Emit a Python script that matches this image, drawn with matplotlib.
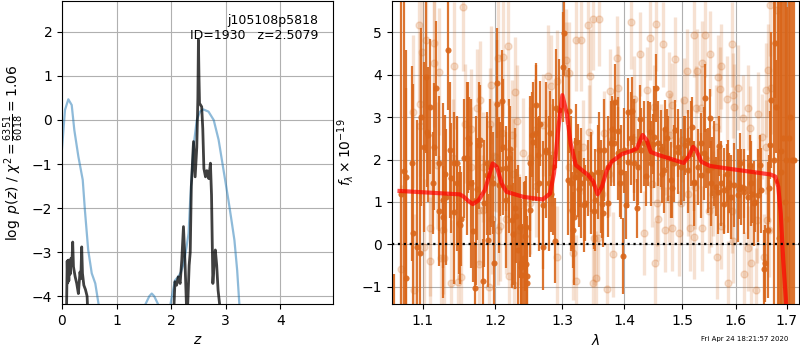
import numpy as np
import matplotlib
matplotlib.use("Agg")
import matplotlib.pyplot as plt
from matplotlib.ticker import NullLocator

# left panel: chi2-like curve (blue) and log p(z) (dark)
chi_z = [0.0, 0.055, 0.116, 0.178, 0.226, 0.30, 0.38, 0.42, 0.48, 0.545, 0.61, 0.67, 0.72,
         1.45, 1.53, 1.60, 1.645, 1.69, 1.76, 1.83,
         1.93, 2.0, 2.07, 2.13, 2.18, 2.23, 2.28, 2.32, 2.35, 2.38, 2.41, 2.44, 2.47,
         2.53, 2.59, 2.685, 2.78, 2.87, 2.95, 3.05, 3.11, 3.16, 3.21, 3.25, 3.3]
chi_y = [-0.65, 0.23, 0.47, 0.34, -0.23, -0.83, -1.36, -2.05, -2.95, -3.48, -3.71, -4.18, -4.6,
         -4.6, -4.18, -4.0, -3.94, -4.0, -4.18, -4.6,
         -4.6, -4.1, -3.64, -3.56, -3.45, -3.26, -2.9, -2.57, -1.8, -1.21, -0.6, -0.3, 0.0,
         0.19, 0.24, 0.19, 0.0, -0.45, -1.06, -1.82, -2.31, -2.73, -3.41, -4.18, -4.6]

pz_z = [0.08, 0.095, 0.105, 0.115, 0.125, 0.135, 0.15, 0.165, 0.18, 0.196, 0.21, 0.24,
        0.27, 0.30, 0.33, 0.345, 0.361, 0.375, 0.40, 0.43, 0.46, 0.48,
        2.04, 2.07, 2.10, 2.13, 2.165, 2.195, 2.226, 2.257, 2.275, 2.29, 2.31, 2.33,
        2.35, 2.37, 2.41, 2.44, 2.47, 2.49, 2.50, 2.51, 2.52, 2.56, 2.58, 2.60, 2.63,
        2.655, 2.69, 2.72, 2.74, 2.765, 2.79, 2.81, 2.835, 2.86, 2.89, 2.91]
pz_y = [-4.6, -3.2, -3.7, -3.18, -3.65, -3.2, -3.5, -3.14, -3.3, -2.77, -3.33, -3.55,
        -3.71, -3.94, -3.45, -3.6, -2.88, -3.48, -3.75, -3.85, -4.0, -4.6,
        -4.6, -3.67, -3.75, -3.56, -3.71, -3.18, -2.42, -3.33, -4.0, -4.6, -4.0, -3.3,
        -3.0, -1.5, -0.49, -1.29, -0.62, 0.5, 1.82, 1.0, 0.38, 0.3, -0.2, -1.1, -1.29,
        -1.15, -1.33, -0.98, -1.7, -3.71, -3.2, -2.95, -3.3, -3.86, -4.2, -4.6]

# right panel: spectrum (wave [um], flux, err)
dark_points = [
    (1.0633, -1.6, 0.9), (1.0718, 1.2, 5.0), (1.076, 1.73, 4.5), (1.078, -0.80, 4.5),
    (1.0782, 1.59, 3.0), (1.0856, 1.91, 2.3), (1.087, 0.28, 3.5), (1.0925, -0.06, 3.0),
    (1.0965, -0.21, 3.2), (1.0978, 3.01, 2.1), (1.1022, 2.30, 2.0), (1.1043, 3.95, 1.8),
    (1.1057, 2.66, 1.3), (1.1074, 2.59, 1.6), (1.1101, 3.25, 1.6), (1.1132, 1.44, 1.2),
    (1.1154, 2.30, 1.5), (1.1176, 3.68, 1.6), (1.122, 0.79, 1.3), (1.1221, 1.91, 1.6),
    (1.1266, 0.64, 1.2), (1.1266, 1.04, 2.3), (1.130, 1.66, 1.4), (1.1311, 1.12, 1.6),
    (1.1334, 4.58, 1.4), (1.1370, 2.22, 1.6), (1.1379, 1.56, 1.3), (1.1415, 0.77, 1.7),
    (1.1424, 1.93, 1.2), (1.1457, 1.91, 1.1), (1.1461, 1.44, 1.6), (1.1484, 0.51, 1.2),
    (1.1507, 0.46, 1.4), (1.1516, 0.60, 1.1), (1.1553, 2.03, 1.4), (1.1599, 2.03, 1.8),
    (1.1609, 2.52, 1.3), (1.1631, 2.38, 1.1), (1.1654, 1.44, 2.0), (1.1678, 0.31, 1.2),
    (1.1714, -1.04, 1.1), (1.1724, 1.04, 2.0), (1.1738, 1.30, 1.2), (1.1771, 2.34, 1.5),
    (1.1784, 2.46, 1.3), (1.1818, -0.87, 1.0), (1.1832, 0.97, 1.5), (1.1876, 1.93, 1.2),
    (1.1880, 1.63, 1.4), (1.1898, 0.10, 1.1), (1.1927, 1.83, 1.6), (1.1937, 1.60, 1.2),
    (1.1961, 1.44, 1.2), (1.1975, -0.45, 1.0), (1.2023, 3.32, 1.5), (1.2026, 3.80, 1.3),
    (1.2056, 1.40, 1.6), (1.2062, 1.78, 1.1), (1.2099, 3.38, 1.2), (1.2104, 2.30, 1.6),
    (1.2153, 1.04, 1.6), (1.2157, 1.79, 1.0), (1.2197, 1.36, 1.1), (1.2201, 2.03, 1.4),
    (1.2207, 2.26, 1.0), (1.2235, 0.57, 1.6), (1.2255, 0.24, 1.2), (1.2284, 0.85, 1.9),
    (1.2304, 0.67, 1.1), (1.2324, -0.13, 2.0), (1.2354, 0.40, 1.2), (1.2373, -0.53, 1.6),
    (1.2378, -0.45, 1.3), (1.2390, -0.72, 1.2), (1.2412, -0.33, 1.8), (1.2429, 0.20, 1.3),
    (1.2440, -0.47, 1.3), (1.2453, 0.41, 1.2), (1.2462, -0.92, 1.6), (1.2465, -0.74, 1.2),
    (1.2504, 0.81, 1.1), (1.2511, 1.91, 1.6), (1.2543, 2.59, 1.0), (1.2547, 2.42, 1.4),
    (1.2594, 3.28, 1.0), (1.2597, 2.62, 1.6), (1.2629, 2.11, 0.9), (1.2647, 1.44, 1.6),
    (1.2655, 2.85, 1.0), (1.2698, 0.93, 1.5), (1.2705, -0.07, 1.0), (1.2748, 2.22, 1.6),
    (1.2755, 2.17, 1.0), (1.2799, 1.44, 1.6), (1.2807, 2.62, 1.0), (1.2832, 1.20, 0.9),
    (1.2850, 1.83, 1.6), (1.2884, 0.09, 1.0), (1.2902, 3.21, 1.4), (1.2953, 3.17, 1.2),
    (1.3012, 4.19, 1.3), (1.3020, 4.98, 1.0), (1.3083, 1.52, 1.3), (1.3106, 3.15, 1.0),
    (1.3135, 1.44, 1.6), (1.3148, 0.80, 0.9), (1.3168, 0.34, 0.9), (1.3188, 0.65, 1.6),
    (1.3195, 1.60, 0.9), (1.3221, 2.42, 0.9), (1.3240, 1.75, 1.1), (1.3264, 1.30, 0.9),
    (1.3284, 1.67, 0.8), (1.3293, 1.44, 1.3), (1.3346, 0.93, 1.1), (1.3355, 0.98, 0.9),
    (1.3400, 1.56, 0.9), (1.3453, 1.44, 1.2), (1.3461, 1.67, 0.9), (1.3499, 0.79, 0.9),
    (1.3518, 1.04, 1.2), (1.3561, 1.71, 1.1), (1.3584, 2.22, 0.9), (1.3615, 1.36, 1.1),
    (1.3638, 0.95, 0.8), (1.3654, 0.73, 0.8), (1.3670, 2.22, 1.2), (1.3724, 1.83, 1.2),
    (1.3726, 0.98, 0.8), (1.3779, 2.38, 1.0), (1.3802, 2.71, 0.8), (1.3834, 2.38, 1.0),
    (1.3846, 3.36, 0.9), (1.3889, 2.15, 1.1), (1.3891, 2.67, 0.8), (1.3929, 1.45, 0.8),
    (1.3945, 1.71, 1.1), (1.3984, -0.28, 0.9), (1.4001, 2.22, 1.0), (1.4025, 0.93, 0.8),
    (1.4056, 1.95, 1.1), (1.4068, 3.13, 0.8), (1.4113, 2.50, 1.1), (1.4126, 3.14, 0.8),
    (1.4169, 1.91, 0.7), (1.4170, 2.22, 1.2), (1.4211, 0.85, 0.7), (1.4226, 1.83, 0.9),
    (1.4267, 2.95, 0.8), (1.4283, 2.22, 1.0), (1.4340, 2.38, 1.0), (1.4363, 1.61, 0.7),
    (1.4397, 2.38, 1.0), (1.4439, 2.66, 0.7), (1.4454, 1.91, 1.0), (1.4496, 2.37, 0.7),
    (1.4512, 2.54, 1.2), (1.4535, 3.68, 0.8), (1.4570, 2.38, 1.0), (1.4628, 2.26, 0.9),
    (1.4642, 1.67, 0.7), (1.4686, 1.75, 1.0), (1.4700, 2.71, 0.7), (1.4730, 2.50, 0.7),
    (1.4745, 2.03, 1.0), (1.4804, 1.52, 0.9), (1.4829, 1.32, 0.7), (1.4863, 1.91, 0.9),
    (1.4877, 2.70, 0.7), (1.4923, 2.19, 1.0), (1.4925, 2.30, 0.7), (1.4982, 1.83, 0.9),
    (1.5042, 2.03, 1.0), (1.5057, 2.34, 0.7), (1.5102, 1.75, 1.0), (1.5105, 2.46, 0.7),
    (1.5162, 2.38, 1.0), (1.5177, 2.77, 0.7), (1.5223, 1.48, 0.7), (1.5224, 1.44, 1.0),
    (1.5284, 1.83, 0.9), (1.5345, 2.40, 0.7), (1.5346, 1.63, 1.0), (1.5406, 2.15, 1.1),
    (1.5424, 3.46, 0.8), (1.5442, 2.03, 0.7), (1.5468, 1.75, 1.0), (1.5517, 2.97, 0.7),
    (1.5529, 1.44, 1.0), (1.5549, 1.83, 0.7), (1.5591, 1.91, 1.0), (1.5629, 1.36, 0.7),
    (1.5654, 1.24, 1.0), (1.5674, 2.32, 0.7), (1.5716, 1.44, 1.0), (1.5779, 0.95, 0.7),
    (1.5780, 1.28, 1.0), (1.5830, 1.67, 0.7), (1.5842, 1.36, 1.1), (1.5863, 1.45, 0.7),
    (1.5905, 1.12, 1.0), (1.5969, 1.40, 1.0), (1.6033, 1.16, 1.1), (1.6054, 1.30, 0.7),
    (1.6085, 1.93, 0.7), (1.6097, 1.36, 0.9), (1.6151, 1.32, 0.7), (1.6161, 1.24, 1.0),
    (1.6226, 1.12, 1.0), (1.6279, 1.88, 0.7), (1.6290, 1.44, 1.0), (1.6312, 1.20, 0.7),
    (1.6355, 0.97, 1.0), (1.6377, 1.00, 0.7), (1.6421, 1.16, 1.1), (1.6475, 1.88, 0.7),
    (1.6486, 1.28, 1.0), (1.6552, -0.57, 0.9), (1.6574, -0.45, 0.9), (1.6618, 0.34, 1.6),
    (1.6640, 1.32, 0.8), (1.6661, 2.34, 0.8), (1.6685, 3.40, 1.6), (1.6751, 2.0, 5.0),
    (1.6773, 4.75, 1.3), (1.6793, 3.25, 1.1), (1.6818, 1.5, 5.0), (1.6840, 0.16, 6.0),
    (1.6885, 2.2, 4.0), (1.6886, 1.71, 5.0), (1.6930, 2.5, 5.0), (1.6975, 1.0, 5.0),
    (1.6987, 2.0, 5.0), (1.7007, 0.61, 5.0), (1.7054, 2.5, 5.0), (1.7060, 3.0, 5.0),
    (1.7110, 2.0, 5.0), (1.7157, 2.0, 5.0),
]

light_points = [
    (1.072, -0.59, 2.0), (1.087, 3.13, 1.8), (1.089, -1.08, 1.8), (1.095, 5.17, 1.8),
    (1.096, 3.31, 1.7), (1.097, 2.79, 1.7), (1.099, 4.54, 1.7), (1.102, -0.06, 1.6),
    (1.104, 4.82, 1.6), (1.110, 0.38, 1.6), (1.110, -0.39, 1.5), (1.115, 4.74, 1.6),
    (1.115, 4.27, 1.5), (1.119, 1.87, 1.5), (1.122, 4.07, 1.5), (1.124, -0.33, 1.5),
    (1.127, 0.34, 1.5), (1.128, -0.31, 1.4), (1.138, -0.92, 1.5), (1.140, 2.03, 1.4),
    (1.142, 4.21, 1.5), (1.147, -0.88, 1.4), (1.151, -0.76, 1.4), (1.154, 5.60, 1.5),
    (1.157, 2.85, 1.4), (1.165, 1.83, 1.4), (1.166, 2.73, 1.4), (1.174, 3.21, 1.4),
    (1.176, 0.81, 1.3), (1.177, -0.46, 1.3), (1.178, 3.40, 1.4), (1.182, 1.83, 1.3),
    (1.183, 0.81, 1.3), (1.191, -1.0, 1.3), (1.192, 2.85, 1.3), (1.194, 3.76, 1.4),
    (1.195, 0.61, 1.3), (1.198, 2.08, 1.3), (1.201, 2.07, 1.3), (1.203, 4.39, 1.4),
    (1.204, 0.34, 1.3), (1.207, 0.43, 1.3), (1.210, 2.62, 1.3), (1.211, 4.43, 1.4),
    (1.216, 0.61, 1.3), (1.218, 4.68, 1.4), (1.219, -0.75, 1.3), (1.224, 2.58, 1.3),
    (1.225, 1.67, 1.3), (1.227, -0.96, 1.3), (1.228, 3.60, 1.3), (1.232, 2.92, 1.3),
    (1.235, 0.35, 1.3), (1.240, 2.15, 1.3), (1.250, 2.03, 1.2), (1.251, 0.97, 1.2),
    (1.258, 2.70, 1.2), (1.259, 1.38, 1.2), (1.271, 2.81, 1.2), (1.278, 3.97, 1.2),
    (1.282, 3.73, 1.2), (1.284, 2.11, 1.2), (1.291, 3.85, 1.2), (1.292, -0.29, 1.2),
    (1.305, 4.05, 1.2), (1.306, 4.36, 1.2), (1.310, 4.05, 1.2), (1.311, 1.83, 1.1),
    (1.317, -0.21, 1.1), (1.321, 4.82, 1.2), (1.322, -0.87, 1.1), (1.330, 4.82, 1.2),
    (1.332, 2.30, 1.1), (1.340, 5.17, 1.2), (1.342, 2.66, 1.1), (1.344, 3.97, 1.1),
    (1.348, 5.31, 1.2), (1.349, -0.90, 1.1), (1.350, 0.14, 1.1), (1.353, -0.79, 1.1),
    (1.357, 0.14, 1.0), (1.358, 5.31, 1.1), (1.363, 1.18, 1.0), (1.366, 2.62, 1.0),
    (1.371, -1.06, 1.1), (1.374, 1.67, 1.0), (1.377, 3.62, 1.0), (1.379, 2.46, 1.0),
    (1.382, -0.23, 1.0), (1.388, 4.39, 1.0), (1.389, 3.69, 1.0), (1.412, 5.24, 1.1),
    (1.417, 3.44, 1.0), (1.418, 2.46, 1.0), (1.427, 4.49, 1.0), (1.434, 0.27, 1.0),
    (1.438, 3.65, 1.0), (1.443, 4.88, 1.0), (1.447, 1.42, 1.0), (1.451, 3.23, 1.0),
    (1.452, -0.45, 1.0), (1.454, 5.19, 1.1), (1.456, 0.97, 1.0), (1.458, 0.60, 1.0),
    (1.463, 2.30, 1.0), (1.467, 4.72, 1.0), (1.469, 2.16, 1.0), (1.470, 0.35, 1.0),
    (1.476, 3.54, 1.0), (1.477, 1.06, 1.0), (1.478, 2.58, 1.0), (1.482, 3.29, 1.0),
    (1.483, 0.38, 1.0), (1.488, 4.37, 1.0), (1.494, 0.26, 1.0), (1.499, 0.98, 1.0),
    (1.500, 2.46, 1.0), (1.503, 3.40, 1.0), (1.509, 4.09, 1.0), (1.510, 1.19, 1.0),
    (1.515, 0.38, 1.0), (1.521, 4.95, 1.0), (1.522, 0.18, 1.0), (1.524, 1.36, 1.0),
    (1.525, 3.21, 1.0), (1.527, 4.09, 1.0), (1.535, 3.21, 1.0), (1.536, 0.38, 1.0),
    (1.537, 4.28, 1.0), (1.542, 4.94, 1.0), (1.549, 0.79, 1.0), (1.551, 4.50, 1.0),
    (1.552, 0.93, 1.0), (1.557, 1.20, 1.0), (1.563, 2.77, 1.0), (1.565, -0.29, 1.0),
    (1.566, 3.94, 1.0), (1.570, 3.66, 1.0), (1.571, 0.43, 1.0), (1.572, 4.20, 1.0),
    (1.582, 3.44, 1.0), (1.584, -0.92, 1.0), (1.592, 4.72, 1.0), (1.593, 0.79, 1.0),
    (1.594, 3.52, 1.0), (1.595, 0.09, 1.0), (1.597, 3.25, 1.0), (1.604, 3.70, 1.0),
    (1.613, 2.99, 1.0), (1.616, -0.70, 1.0), (1.623, 3.22, 1.0), (1.624, -0.09, 1.0),
    (1.628, 2.74, 1.0), (1.629, -0.45, 1.0), (1.638, -1.08, 1.0), (1.641, 0.57, 1.0),
    (1.643, 3.07, 1.0), (1.651, 2.54, 1.0), (1.654, -0.29, 1.0), (1.658, 3.64, 1.1),
    (1.659, 2.30, 1.1), (1.661, 0.57, 1.1), (1.663, 4.11, 1.1), (1.664, 0.34, 1.1),
    (1.667, 5.65, 1.2), (1.668, 3.70, 1.1), (1.680, 5.53, 1.5),
]

model_wave = [1.070, 1.150, 1.155, 1.162, 1.168, 1.176, 1.185, 1.196, 1.202, 1.209, 1.216,
              1.241, 1.270, 1.281, 1.287, 1.294, 1.300, 1.307, 1.313, 1.321, 1.331, 1.341,
              1.349, 1.356, 1.363, 1.371, 1.379, 1.396, 1.413, 1.421, 1.431, 1.438, 1.445,
              1.458, 1.503, 1.512, 1.520, 1.526, 1.535, 1.551, 1.589, 1.667, 1.677, 1.683,
              1.688, 1.693, 1.699, 1.703]
model_flux = [1.26, 1.18, 1.13, 1.02, 0.95, 1.04, 1.28, 1.91, 1.83, 1.44, 1.24,
              1.12, 1.06, 1.20, 1.67, 2.77, 3.52, 3.09, 2.38, 1.87, 1.75, 1.63,
              1.48, 1.18, 1.36, 1.75, 1.95, 2.13, 2.21, 2.26, 2.58, 2.46, 2.18,
              2.11, 1.92, 2.07, 2.30, 2.22, 1.95, 1.85, 1.78, 1.65, 1.60, 1.36,
              0.73, -0.37, -1.41, -2.0]

z_ticks = [0, 1, 2, 3, 4]
pz_yticks = [-4, -3, -2, -1, 0, 1, 2]
wave_ticks = [1.1, 1.2, 1.3, 1.4, 1.5, 1.6, 1.7]
flux_yticks = [-1, 0, 1, 2, 3, 4, 5]


def main():
    fig = plt.figure(figsize=(8, 3.5), dpi=100)
    ax1 = fig.add_axes([0.0775, 0.131, 0.339, 0.866])
    ax2 = fig.add_axes([0.4896, 0.131, 0.509, 0.866])

    # p(z) panel
    ax1.plot(chi_z, chi_y, color='tab:blue', alpha=0.5, lw=1.6)
    ax1.plot(pz_z, pz_y, color='k', alpha=0.75, lw=2)
    ax1.set_xlim(0, 4.97)
    ax1.set_ylim(-4.18, 2.7)
    ax1.set_xticks(z_ticks)
    ax1.set_yticks(pz_yticks)
    ax1.grid(True)
    ax1.set_xlabel('$z$')
    ax1.set_ylabel(r'$\log\ p(z)$ / $\chi^2=\frac{6351}{6018}=1.06$')
    ax1.text(0.945, 0.958, 'j105108p5818\nID=1930   z=2.5079', ha='right', va='top',
             transform=ax1.transAxes, fontsize=9)

    # spectrum panel
    light = np.array(light_points)
    dark = np.array(dark_points)
    ax2.errorbar(light[:, 0], light[:, 1], light[:, 2], marker='o', ms=5,
                 color='chocolate', alpha=0.2, linestyle='none', elinewidth=2.4)
    ax2.errorbar(dark[:, 0], dark[:, 1], dark[:, 2], marker='o', ms=4.4, mew=0,
                 color='#d9661a', alpha=0.9, linestyle='none', elinewidth=1.6)
    ax2.plot(model_wave, model_flux, color='r', alpha=0.7, lw=3, zorder=5)
    ax2.axhline(0, color='k', linestyle=':', lw=1.6, zorder=6)

    ax2.set_xscale('log')
    ax2.set_xlim(1.060, 1.725)
    ax2.set_ylim(-1.41, 5.74)
    ax2.set_xticks(wave_ticks)
    ax2.set_xticklabels(['%.1f' % w for w in wave_ticks])
    ax2.xaxis.set_minor_locator(NullLocator())
    ax2.set_yticks(flux_yticks)
    ax2.grid(True)
    ax2.set_xlabel(r'$\lambda$')
    ax2.set_ylabel(r'$f_\lambda\times10^{-19}$')

    fig.text(0.985, 0.03, 'Fri Apr 24 18:21:57 2020', ha='right', va='center', fontsize=5)

    fig.savefig('out.png', dpi=100)


if __name__ == "__main__":
    main()
